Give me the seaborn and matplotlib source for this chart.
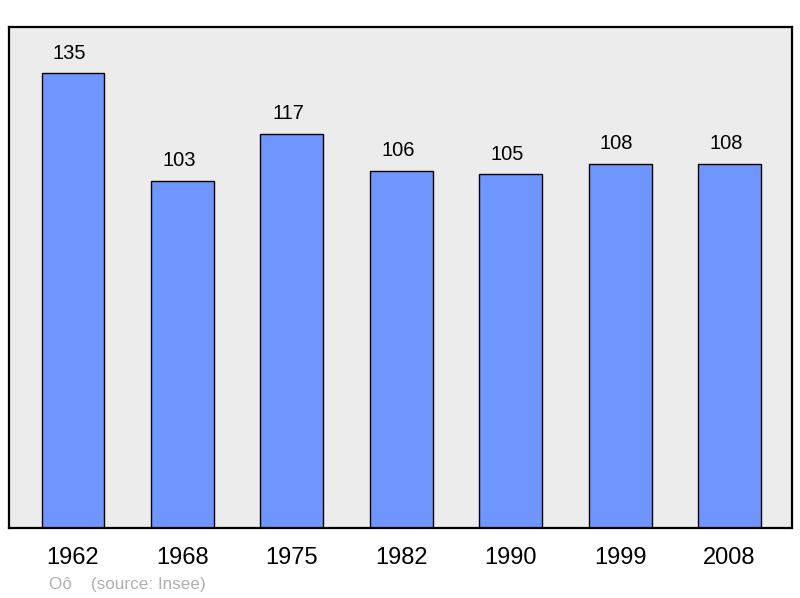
import matplotlib
matplotlib.use("Agg")
import matplotlib.pyplot as plt
import seaborn as sns
import pandas as pd

years = ["1962", "1968", "1975", "1982", "1990", "1999", "2008"]
population = [135, 103, 117, 106, 105, 108, 108]
source_text = "Oô    (source: Insee)"

sns.set_style("white")
plt.rcParams["font.family"] = ["Liberation Sans", "DejaVu Sans"]

df = pd.DataFrame({"year": years, "pop": population})

fig = plt.figure(figsize=(8.0, 5.98), dpi=100)
ax = fig.add_axes([9 / 800, 70 / 598, 783 / 800, 501 / 598])
ax.set_facecolor("#ececec")

sns.barplot(data=df, x="year", y="pop", color="#6f96ff", saturation=1,
            width=0.575, edgecolor="black", linewidth=1.0, ax=ax, zorder=2)

for i, v in enumerate(population):
    ax.annotate(str(v), (i, v), xytext=(-2.5, 14.5), textcoords="offset points",
                ha="center", va="center", fontsize=14.5, color="black")

ax.set_ylim(0, 148.7)
ax.set_xlim(-0.585, 6.57)
ax.set_yticks([])
ax.set_xlabel("")
ax.set_ylabel("")
ax.tick_params(axis="x", length=0, pad=14, labelsize=17, colors="black")
for s in ax.spines.values():
    s.set_visible(True)
    s.set_color("black")
    s.set_linewidth(1.6)

fig.text(49 / 800, 1 - 585 / 598, source_text, fontsize=12.3, color="#b0b0b0",
         ha="left", va="center")

fig.savefig("out.png", dpi=100, facecolor="white")
